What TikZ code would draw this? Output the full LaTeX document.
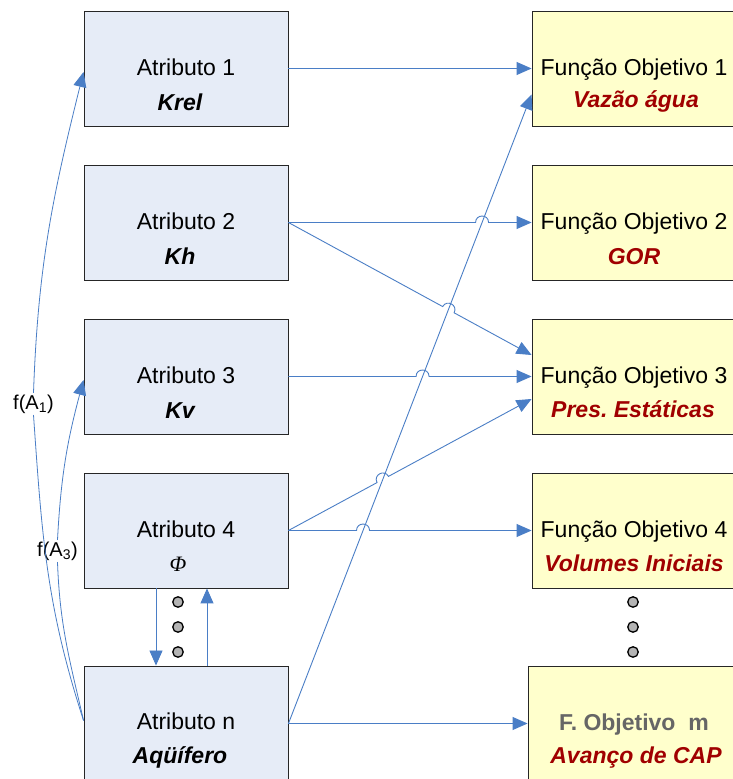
\documentclass[tikz,border=0pt]{standalone}
\usepackage{fontspec}
\setmainfont{Liberation Sans}
\newfontfamily\seriffont{Liberation Serif}
\usetikzlibrary{arrows.meta,calc,intersections,shadows}
\definecolor{attrfill}{RGB}{230,236,247}
\definecolor{funcfill}{RGB}{255,255,204}
\definecolor{conncol}{RGB}{74,126,198}
\definecolor{darkred}{RGB}{160,0,0}
\definecolor{dotfill}{RGB}{180,180,180}
\definecolor{mgray}{RGB}{102,102,102}
\newcommand\hopr{6.5pt}
\frenchspacing
\begin{document}
\begin{tikzpicture}[x=1pt,y=1pt,
  box/.style={draw=black!85, line width=0.9pt, minimum width=204pt, minimum height=115pt, inner sep=0pt,
    drop shadow={shadow xshift=1.2pt, shadow yshift=-1.2pt, fill=black, opacity=0.45}},
  attr/.style={box, fill=attrfill},
  func/.style={box, fill=funcfill},
  lineone/.style={font=\fontsize{23pt}{27pt}\selectfont, inner sep=0pt, anchor=base},
  linetwo/.style={font=\fontsize{23pt}{27pt}\selectfont\bfseries\itshape, inner sep=0pt, anchor=base},
  redtwo/.style={linetwo, text=darkred},
  tip/.style={-{Triangle[length=15pt,width=13pt]}},
  conn/.style={draw=conncol, line width=0.9pt, tip},
  curve/.style={draw=conncol, line width=0.8pt},
  hop/.style={bend left=90, looseness=1.7},
  dotmark/.style={circle, draw=black, line width=1.3pt, fill=dotfill, minimum size=10.5pt, inner sep=0pt},
  flab/.style={font=\fontsize{20pt}{24pt}\selectfont, inner sep=1.5pt}
]
\clip (0,0) rectangle (733,779);
\fill[white] (0,0) rectangle (733,779);

% attribute boxes
\node[attr] (A1) at (186,710.5) {};
\node[attr] (A2) at (186,556.5) {};
\node[attr] (A3) at (186,402.5) {};
\node[attr] (A4) at (186,248.5) {};
\node[attr] (An) at (186,55.5) {};

% objective boxes
\node[func] (F1) at (634,710.5) {};
\node[func] (F2) at (634,556.5) {};
\node[func] (F3) at (634,402.5) {};
\node[func] (F4) at (634,248.5) {};
\node[func, minimum width=212pt] (Fm) at (634,55.5) {};

% texts
\node[lineone] (A1a) at ([yshift=-65pt]A1.north) {Atributo 1};
\node[linetwo] (A1b) at ([yshift=-99.5pt,xshift=-6pt]A1.north) {Krel};
\node[lineone] (A2a) at ([yshift=-65pt]A2.north) {Atributo 2};
\node[linetwo] (A2b) at ([yshift=-100pt,xshift=-6pt]A2.north) {Kh};
\node[lineone] (A3a) at ([yshift=-65pt]A3.north) {Atributo 3};
\node[linetwo] (A3b) at ([yshift=-100pt,xshift=-6pt]A3.north) {Kv};
\node[lineone] (A4a) at ([yshift=-65pt]A4.north) {Atributo 4};
\node[inner sep=0pt, anchor=base, font=\fontsize{22pt}{26pt}\seriffont\itshape] (A4b) at ([yshift=-99pt,xshift=-8pt]A4.north) {Φ};
\node[lineone] (Ana) at ([yshift=-64pt]An.north) {Atributo n};
\node[linetwo] (Anb) at ([yshift=-98pt,xshift=-6pt]An.north) {Aqüífero};

\node[lineone] (F1a) at ([yshift=-65pt]F1.north) {Função Objetivo 1};
\node[redtwo] (F1b) at ([yshift=-96.5pt,xshift=2pt]F1.north) {Vazão água};
\node[lineone] (F2a) at ([yshift=-65pt]F2.north) {Função Objetivo 2};
\node[redtwo] (F2b) at ([yshift=-100pt]F2.north) {GOR};
\node[lineone] (F3a) at ([yshift=-65pt]F3.north) {Função Objetivo 3};
\node[redtwo] (F3b) at ([yshift=-99pt,xshift=-1pt]F3.north) {Pres. Estáticas};
\node[lineone] (F4a) at ([yshift=-65pt]F4.north) {Função Objetivo 4};
\node[redtwo] (F4b) at ([yshift=-99pt]F4.north) {Volumes Iniciais};
\node[lineone, font=\fontsize{23pt}{27pt}\selectfont\bfseries, text=mgray] (Fma) at ([yshift=-65pt]F4.north |- Fm.north) {F. Objetivo\ \ m};
\node[redtwo] (Fmb) at ([yshift=-98pt,xshift=2pt]F4.north |- Fm.north) {Avanço de CAP};

% dots
\node[dotmark] (dl1) at (178,177) {};
\node[dotmark] (dl2) at (178,152) {};
\node[dotmark] (dl3) at (178,127) {};
\node[dotmark] (dr1) at (633,177) {};
\node[dotmark] (dr2) at (633,152) {};
\node[dotmark] (dr3) at (633,127) {};

% entry points
\coordinate (F1in) at ([yshift=-26pt]F1.west);
\coordinate (F3up) at ([yshift=21.5pt]F3.west);
\coordinate (F3dn) at ([yshift=-22.5pt]F3.west);

% long connector (no hops)
\path[name path=long] (An.east) -- (F1in);
\draw[conn] (An.east) -- (F1in);

% straight connectors
\draw[conn] (A1.east) -- (F1.west);
\draw[conn] (An.east) -- (An.east -| Fm.west);

% connectors with hops
\path[name path=p22] (A2.east) -- (F2.west);
\path[name intersections={of=long and p22, by=h22}];
\draw[conn] (A2.east) -- ($(h22)!\hopr!(A2.east)$) to[hop] ($(h22)!\hopr!(F2.west)$) -- (F2.west);

\path[name path=p23] (A2.east) -- (F3up);
\path[name intersections={of=long and p23, by=h23}];
\draw[conn] (A2.east) -- ($(h23)!\hopr!(A2.east)$) to[hop] ($(h23)!\hopr!(F3up)$) -- (F3up);

\path[name path=p33] (A3.east) -- (F3.west);
\path[name intersections={of=long and p33, by=h33}];
\draw[conn] (A3.east) -- ($(h33)!\hopr!(A3.east)$) to[hop] ($(h33)!\hopr!(F3.west)$) -- (F3.west);

\path[name path=p43] (A4.east) -- (F3dn);
\path[name intersections={of=long and p43, by=h43}];
\draw[conn] (A4.east) -- ($(h43)!\hopr!(A4.east)$) to[hop] ($(h43)!\hopr!(F3dn)$) -- (F3dn);

\path[name path=p44] (A4.east) -- (F4.west);
\path[name intersections={of=long and p44, by=h44}];
\draw[conn] (A4.east) -- ($(h44)!\hopr!(A4.east)$) to[hop] ($(h44)!\hopr!(F4.west)$) -- (F4.west);

% vertical arrows between Atributo 4 and Atributo n
\draw[conn] ([xshift=-30pt]A4.south) -- ([xshift=-30pt]An.north);
\draw[conn] ([xshift=21pt]An.north) -- ([xshift=21pt]A4.south);

% f(A) curves
\node[flab] (fa1) at (33.5,375) {f(A\textsubscript{1})};
\node[flab] (fa3) at (57.5,228) {f(A\textsubscript{3})};
\coordinate (Anl) at ([yshift=3pt]An.west);
\draw[curve] (Anl) to[out=108,in=-86] (fa1.south);
\draw[curve, tip] (fa1.north) to[out=88,in=-104] ([yshift=-3.5pt]A1.west);
\draw[curve] (Anl) to[out=103,in=-88] (fa3.south);
\draw[curve, tip] (fa3.north) to[out=87,in=-105] ([yshift=-3.5pt]A3.west);
\end{tikzpicture}
\end{document}
